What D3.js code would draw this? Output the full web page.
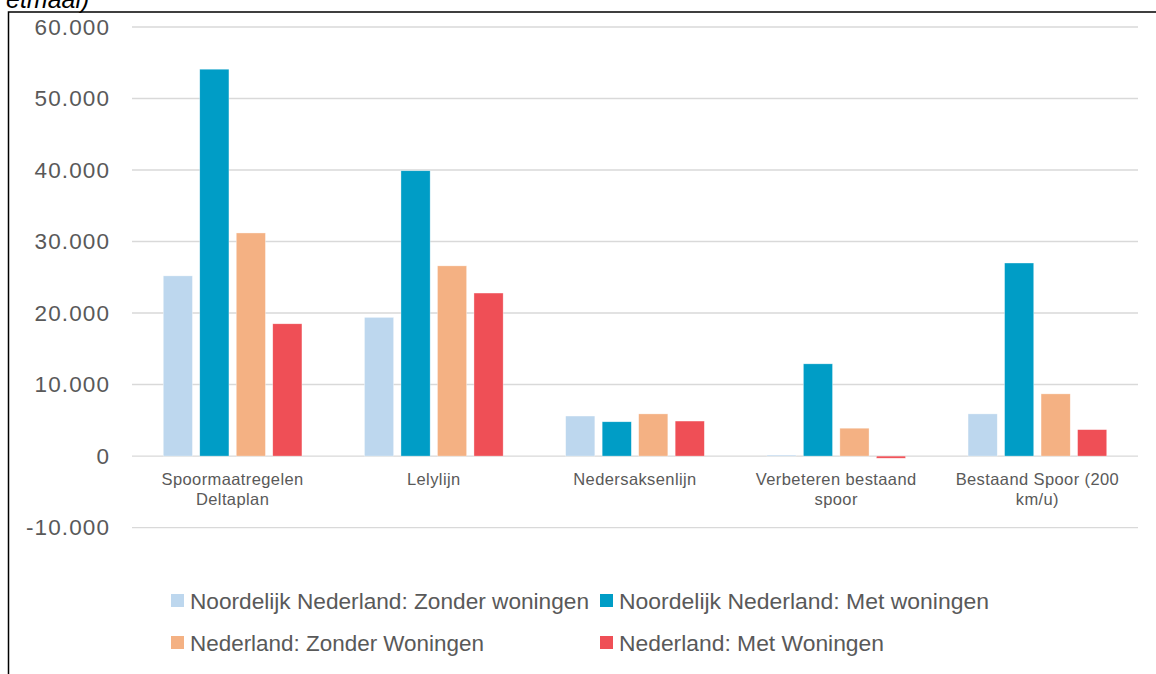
<!DOCTYPE html>
<meta charset="utf-8">
<script src="https://d3js.org/d3.v7.min.js"></script>
<style>
  body { margin: 0; background: #fff; overflow: hidden; }
  text { font-family: 'Liberation Sans', Arial, sans-serif; fill: #595959; }
</style>
<div id="chart"></div>
<script>
// categories (lines split like the original labels)
const categories = ["Spoormaatregelen Deltaplan", "Lelylijn", "Nedersaksenlijn",
                    "Verbeteren bestaand spoor", "Bestaand Spoor (200 km/u)"];
const categoryLines = [["Spoormaatregelen", "Deltaplan"], ["Lelylijn"], ["Nedersaksenlijn"],
                       ["Verbeteren bestaand", "spoor"], ["Bestaand Spoor (200", "km/u)"]];

const seriesNames = ["Noordelijk Nederland: Zonder woningen", "Noordelijk Nederland: Met woningen",
                     "Nederland: Zonder Woningen", "Nederland: Met Woningen"];
const seriesColors = ["#bdd7ee", "#009dc6", "#f4b183", "#ef4f56"];

// values per series, one per category
const nnZonder = [25200, 19400, 5600, 150, 5900];
const nnMet    = [54100, 39900, 4800, 12900, 27000];
const nlZonder = [31200, 26600, 5900, 3900, 8700];
const nlMet    = [18500, 22800, 4900, -300, 3700];
const seriesValues = [nnZonder, nnMet, nlZonder, nlMet];

const yTicks = [-10000, 0, 10000, 20000, 30000, 40000, 50000, 60000];

// layout
const W = 1156, H = 674;
const plotLeft = 132, plotRight = 1138, yTop = 27, yBottom = 527.6;

const svg = d3.select("#chart").append("svg")
  .attr("width", W).attr("height", H);

// outer frame (only left + top visible in the crop)
svg.append("rect")
  .attr("x", 8.5).attr("y", 12)
  .attr("width", W + 20).attr("height", H + 20)
  .attr("fill", "none").attr("stroke", "#000").attr("stroke-width", 1.5);

// clipped title remnant
svg.append("text")
  .attr("x", 6).attr("y", 8)
  .style("font-style", "italic")
  .style("font-size", "25px")
  .style("fill", "#000")
  .text("etmaal)");

const y = d3.scaleLinear().domain([-10000, 60000]).range([yBottom, yTop]);
const x0 = d3.scaleBand().domain(categories).range([plotLeft, plotRight]).padding(0);
const bw = x0.bandwidth();
const step = 36.5;
const x1 = d3.scaleBand().domain(seriesNames)
  .range([bw / 2 - 2 * step, bw / 2 + 2 * step])
  .paddingInner(0.2).paddingOuter(0.1);

// dutch style thousands, plain hyphen for negatives
const fmt = d => d3.format(",")(d).replace(/,/g, ".").replace("\u2212", "-");

// gridlines
svg.append("g").selectAll("line")
  .data(yTicks).enter().append("line")
    .attr("x1", plotLeft).attr("x2", plotRight)
    .attr("y1", d => y(d)).attr("y2", d => y(d))
    .attr("stroke", "#d9d9d9").attr("stroke-width", 1.4);

// y axis labels
const yAxis = svg.append("g")
  .attr("transform", "translate(110,0)")
  .call(d3.axisLeft(y).tickValues(yTicks).tickFormat(fmt).tickSize(0).tickPadding(0));
yAxis.select(".domain").remove();
yAxis.selectAll("text")
  .attr("fill", "#595959")
  .style("font-family", "'Liberation Sans', Arial, sans-serif")
  .style("font-size", "22.5px")
  .style("letter-spacing", "1.1px");

// bars
const groups = svg.append("g").selectAll("g")
  .data(categories).enter().append("g")
    .attr("transform", d => "translate(" + x0(d) + ",0)");

groups.selectAll("rect")
  .data((c, ci) => seriesNames.map((s, si) => ({ s: s, v: seriesValues[si][ci], color: seriesColors[si] })))
  .enter().append("rect")
    .attr("x", d => x1(d.s))
    .attr("width", x1.bandwidth())
    .attr("y", d => y(Math.max(0, d.v)))
    .attr("height", d => Math.abs(y(d.v) - y(0)))
    .attr("fill", d => d.color)
    .attr("stroke", "#fff").attr("stroke-width", 0.6).attr("stroke-opacity", 0.6);

// category labels
svg.append("g").selectAll("text")
  .data(categories).enter().append("text")
    .attr("text-anchor", "middle")
    .attr("x", d => x0(d) + bw / 2)
    .attr("y", 485)
    .style("font-size", "16.5px")
    .style("letter-spacing", "0.4px")
    .each(function(d, i) {
      const t = d3.select(this);
      categoryLines[i].forEach((line, li) => {
        t.append("tspan")
          .attr("x", x0(d) + bw / 2)
          .attr("dy", li === 0 ? 0 : 20)
          .text(line);
      });
    });

// legend
const legendPos = [[171, 601], [600, 601], [171, 643], [600, 643]];
const legendWidth = [399, 370, 294, 265];
const legend = svg.append("g").selectAll("g")
  .data(seriesNames).enter().append("g")
    .attr("transform", (d, i) => "translate(" + legendPos[i][0] + "," + legendPos[i][1] + ")");
legend.append("rect")
  .attr("x", 0).attr("y", -7).attr("width", 13).attr("height", 13)
  .attr("fill", (d, i) => seriesColors[i]);
legend.append("text")
  .attr("x", 19).attr("y", 0)
  .attr("dominant-baseline", "central")
  .attr("textLength", (d, i) => legendWidth[i])
  .attr("lengthAdjust", "spacingAndGlyphs")
  .style("font-size", "22px")
  .text(d => d);
</script>
